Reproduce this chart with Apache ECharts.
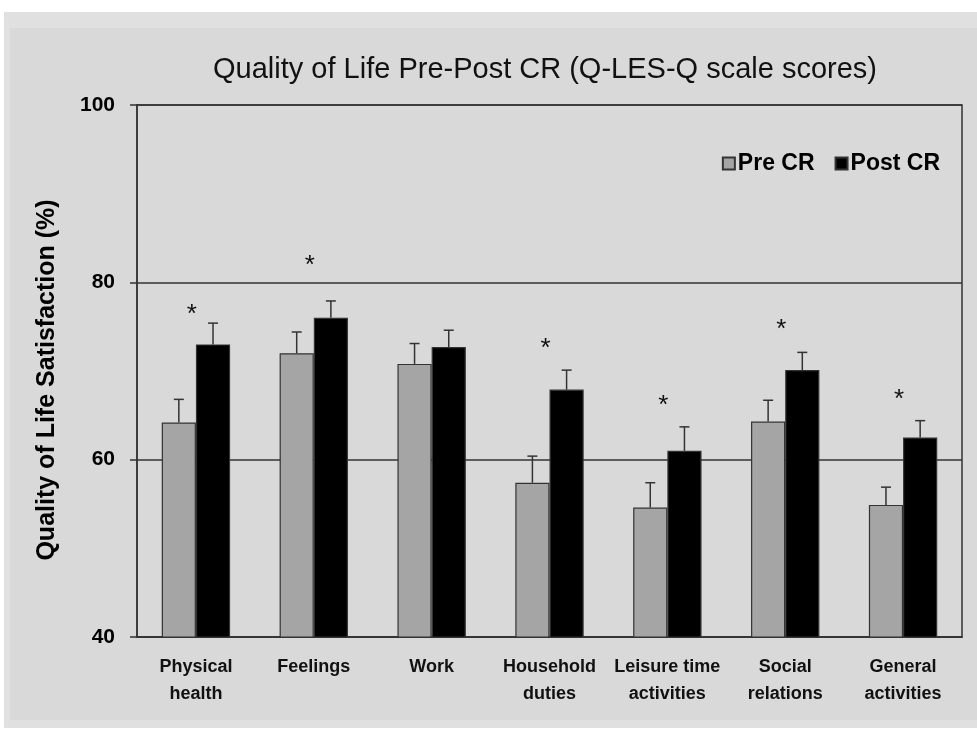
<!DOCTYPE html>
<html><head><meta charset="utf-8">
<script src="https://cdn.jsdelivr.net/npm/echarts@6/dist/echarts.min.js"></script>
<style>html,body{margin:0;padding:0;background:#fff;}#c{width:977px;height:729px;}</style>
</head><body><div id="c"></div>
<script>
var categories = ['Physical\nhealth','Feelings','Work','Household\nduties','Leisure time\nactivities','Social\nrelations','General\nactivities'];
var preValues  = [64.2, 72.0, 70.8, 57.4, 54.6, 64.3, 54.9];
var preErrTop  = [66.8, 74.4, 73.1, 60.4, 57.4, 66.7, 56.9];
var postValues = [73.0, 76.0, 72.7, 67.9, 61.0, 70.1, 62.5];
var postErrTop = [75.4, 77.9, 74.6, 70.1, 63.7, 72.1, 64.4];
var asteriskAt = [77.0, 82.5, null, 73.2, 66.8, 75.3, 67.4];
var yTicks = [40, 60, 80, 100];

var FONT = 'Liberation Sans, Arial, sans-serif';
var BAR_FRAC = 0.29;
function errSeries(vals, tops, sign){
  return {
    type:'custom', z:5, silent:true,
    data: vals.map(function(v,i){return [i, v, tops[i]];}),
    renderItem:function(params, api){
      var i = api.value(0);
      var band = api.size([1,0])[0];
      var x = api.coord([i, 0])[0] + sign*band*BAR_FRAC/2;
      var y0 = api.coord([i, api.value(1)])[1];
      var y1 = api.coord([i, api.value(2)])[1];
      var st = {stroke:'#333', lineWidth:1.5};
      return {type:'group', children:[
        {type:'line', shape:{x1:x,y1:y0,x2:x,y2:y1}, style:st},
        {type:'line', shape:{x1:x-5,y1:y1,x2:x+5,y2:y1}, style:st}
      ]};
    }
  };
}

var chart = echarts.init(document.getElementById('c'));
chart.setOption({
  backgroundColor:'#fff',
  animation:false,
  graphic:[
    {type:'rect', z:-10, shape:{x:4,y:12,width:973,height:716}, style:{fill:'#e0e0e0'}},
    {type:'rect', z:-9, shape:{x:10,y:28,width:967,height:692}, style:{fill:'#d9d9d9'}},
    {type:'text', z:10, x:47, y:380, rotation:Math.PI/2,
      style:{text:'Quality of Life Satisfaction (%)', font:'bold 25px ' + FONT, fill:'#000', align:'center', verticalAlign:'middle'}}
  ],
  title:{
    text:'Quality of Life Pre-Post CR (Q-LES-Q scale scores)',
    left:540, top:50, textAlign:'center',
    textStyle:{fontFamily:FONT, fontSize:29, fontWeight:'normal', color:'#111'}
  },
  legend:{
    right:32, top:147, itemWidth:12, itemHeight:12, itemGap:20,
    textStyle:{fontFamily:FONT, fontSize:23, fontWeight:'bold', color:'#000', padding:[0,0,0,-2]},
    data:[{name:'Pre CR', icon:'rect'},{name:'Post CR', icon:'rect'}]
  },
  grid:{left:137, right:15, top:105, bottom:92, show:true, borderColor:'#333', borderWidth:1.5, backgroundColor:'transparent'},
  xAxis:{
    type:'category', data:categories,
    axisLine:{lineStyle:{color:'#333', width:1.5}},
    axisTick:{length:8, lineStyle:{color:'#333', width:1.5}},
    axisLabel:{interval:0, hideOverlap:false, fontFamily:FONT, fontSize:18, fontWeight:'bold', color:'#111', lineHeight:27, margin:17}
  },
  yAxis:{
    type:'value', min:40, max:100, interval:20,
    axisLine:{show:true, lineStyle:{color:'#333', width:1.5}},
    axisTick:{show:true, length:7, lineStyle:{color:'#333', width:1.5}},
    axisLabel:{fontFamily:FONT, fontSize:21, fontWeight:'bold', color:'#000', margin:22,
      formatter:function(v){return yTicks.indexOf(v)>=0 ? String(v) : '';}},
    splitLine:{lineStyle:{color:'#333', width:1.5}}
  },
  series:[
    {name:'Pre CR', type:'bar', data:preValues, barWidth:(BAR_FRAC*100)+'%', barGap:'0%',
      itemStyle:{color:'#a5a5a5', borderColor:'#333', borderWidth:1.2}},
    {name:'Post CR', type:'bar', data:postValues, barWidth:(BAR_FRAC*100)+'%', barGap:'0%',
      itemStyle:{color:'#000', borderColor:'#333', borderWidth:1.2}},
    errSeries(preValues, preErrTop, -1),
    errSeries(postValues, postErrTop, 1),
    {type:'custom', z:6, silent:true,
      data: asteriskAt.map(function(v,i){return [i, v];}).filter(function(d){return d[1]!==null;}),
      renderItem:function(params, api){
        var p = api.coord([api.value(0), api.value(1)]);
        return {type:'text', x:p[0]-4, y:p[1]+6, style:{text:'*', fontSize:26, fontFamily:FONT, fill:'#111', align:'center', verticalAlign:'middle'}};
      }
    }
  ]
});
</script></body></html>
